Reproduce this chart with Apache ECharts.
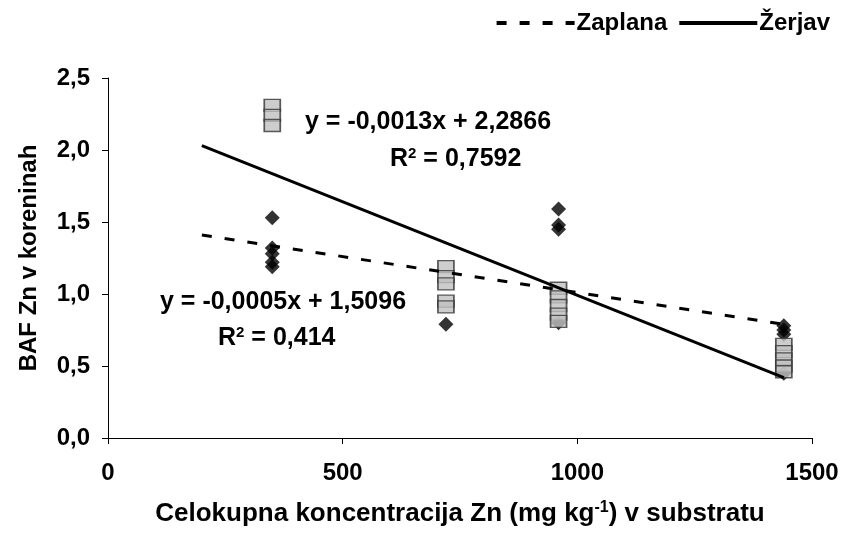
<!DOCTYPE html>
<html>
<head>
  <meta charset="UTF-8">
  <title>BAF Zn v koreninah</title>
  <style>
    html, body { margin: 0; padding: 0; background: #fff; }
    #chart { width: 845px; height: 540px; }
  </style>
  <script src="https://cdn.jsdelivr.net/npm/echarts@6/dist/echarts.min.js"></script>
</head>
<body>
  <div id="chart"></div>
  <script>
    // measured points, [substrate Zn, BAF]
    var zaplanaPts = [
      [350, 1.53], [350, 1.32], [350, 1.28], [350, 1.22], [350, 1.19],
      [720, 0.79],
      [960, 1.59], [960, 1.48], [960, 1.45], [960, 0.80],
      [1440, 0.78], [1440, 0.75], [1440, 0.72], [1440, 0.45]
    ];
    var zerjavPts = [
      [350, 2.31], [350, 2.24], [350, 2.17],
      [720, 1.19], [720, 1.12], [720, 1.07], [720, 0.95], [720, 0.91],
      [960, 1.04], [960, 0.98], [960, 0.92], [960, 0.86], [960, 0.81],
      [1440, 0.65], [1440, 0.60], [1440, 0.55], [1440, 0.50], [1440, 0.46]
    ];
    // trendline end points
    var zaplanaTrend = [[200, 1.41], [1440, 0.79]];
    var zerjavTrend = [[200, 2.03], [1440, 0.42]];

    var seriesNames = ['Zaplana', 'Žerjav'];
    var eqZaplana = ['y = -0,0005x + 1,5096', '0,414'];
    var eqZerjav = ['y = -0,0013x + 2,2866', '0,7592'];

    var font = '"Liberation Sans", Arial, sans-serif';
    var fs = 24;
    var eqFs = 25;
    var chart = echarts.init(document.getElementById('chart'));

    var supStyle = { font: 'bold 15px ' + font, verticalAlign: 'top', padding: [0, 0, 12, 0] };

    var option = {
      animation: false,
      backgroundColor: '#fff',
      textStyle: { fontFamily: font },
      grid: { left: 108, right: 33, top: 78, bottom: 102 },
      legend: {
        data: seriesNames,
        right: 10,
        top: 6,
        itemWidth: 78,
        itemHeight: 14,
        itemGap: 10,
        itemStyle: { opacity: 0 },
        lineStyle: { width: 4 },
        textStyle: { fontFamily: font, fontWeight: 'bold', fontSize: fs, color: '#000', padding: [0, 0, 0, -3] }
      },
      xAxis: {
        type: 'value',
        min: 0, max: 1500, interval: 500,
        name: 'Celokupna koncentracija Zn (mg kg{sup|-1}) v substratu',
        nameLocation: 'middle',
        nameGap: 62,
        nameTextStyle: {
          fontFamily: font, fontWeight: 'bold', fontSize: 26, color: '#000',
          rich: { sup: { fontFamily: font, fontWeight: 'bold', fontSize: 16, verticalAlign: 'top', padding: [0, 0, 12, 0], color: '#000' } }
        },
        axisLine: { lineStyle: { color: '#000', width: 1 } },
        axisTick: { length: 6, lineStyle: { color: '#000' } },
        axisLabel: {
          fontFamily: font, fontWeight: 'bold', fontSize: fs, color: '#000', margin: 23,
          formatter: function (v) { return String(v); }
        },
        splitLine: { show: false }
      },
      yAxis: {
        type: 'value',
        min: 0, max: 2.5, interval: 0.5,
        name: 'BAF Zn v koreninah',
        nameLocation: 'middle',
        nameGap: 67,
        nameTextStyle: { fontFamily: font, fontWeight: 'bold', fontSize: fs, color: '#000' },
        axisLine: { show: true, lineStyle: { color: '#000', width: 1 } },
        axisTick: { show: true, length: 6, lineStyle: { color: '#000' } },
        axisLabel: {
          fontFamily: font, fontWeight: 'bold', fontSize: fs, color: '#000', margin: 18,
          formatter: function (v) { return v.toFixed(1).replace('.', ','); }
        },
        splitLine: { show: false }
      },
      series: [
        {
          name: 'Zaplana pts',
          type: 'scatter',
          data: zaplanaPts,
          symbol: 'diamond',
          symbolSize: [15, 15],
          itemStyle: { color: '#000' },
          z: 2
        },
        {
          name: 'Žerjav pts',
          type: 'scatter',
          data: zerjavPts,
          symbol: 'rect',
          symbolSize: [16, 12],
          itemStyle: { color: '#c0c0c0', borderColor: '#333', borderWidth: 1.5 },
          z: 3
        },
        {
          name: seriesNames[0],
          type: 'line',
          data: zaplanaTrend,
          symbol: 'none',
          itemStyle: { color: '#000' },
          lineStyle: { color: '#000', width: 3, type: [10, 13] },
          z: 4
        },
        {
          name: seriesNames[1],
          type: 'line',
          data: zerjavTrend,
          symbol: 'none',
          itemStyle: { color: '#000' },
          lineStyle: { color: '#000', width: 3 },
          z: 4
        }
      ],
      graphic: [
        {
          type: 'text', left: 305, top: 110, z: 10,
          style: { text: eqZerjav[0], font: 'bold ' + eqFs + 'px ' + font, fill: '#000' }
        },
        {
          type: 'text', left: 390, top: 146, z: 10,
          style: { text: 'R{sup|2} = ' + eqZerjav[1], font: 'bold ' + eqFs + 'px ' + font, fill: '#000', rich: { sup: supStyle } }
        },
        {
          type: 'text', left: 160, top: 290, z: 10,
          style: { text: eqZaplana[0], font: 'bold ' + eqFs + 'px ' + font, fill: '#000' }
        },
        {
          type: 'text', left: 218, top: 325, z: 10,
          style: { text: 'R{sup|2} = ' + eqZaplana[1], font: 'bold ' + eqFs + 'px ' + font, fill: '#000', rich: { sup: supStyle } }
        }
      ]
    };
    chart.setOption(option);
  </script>
</body>
</html>
